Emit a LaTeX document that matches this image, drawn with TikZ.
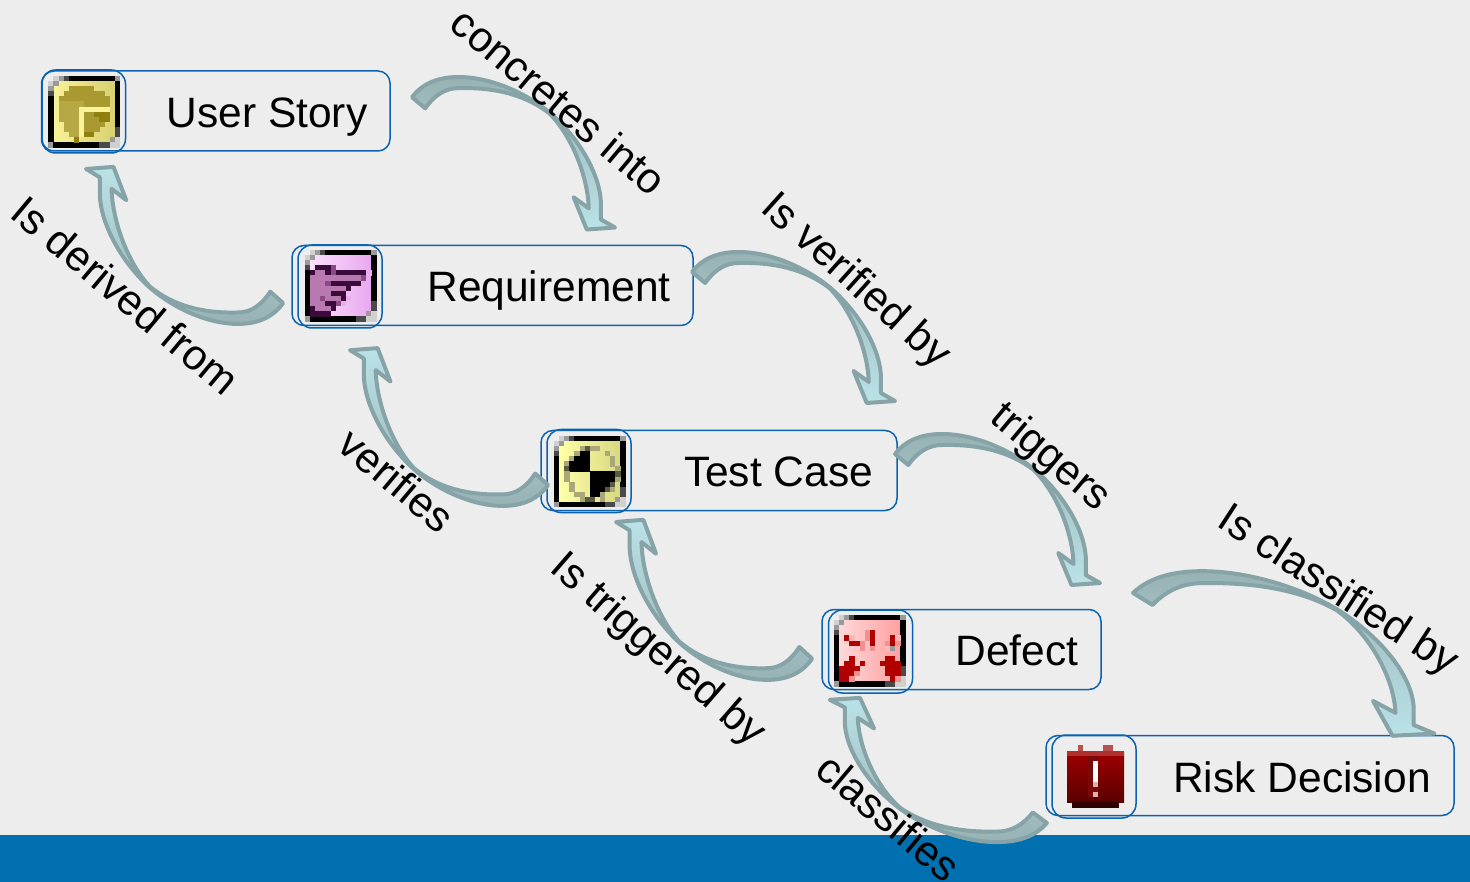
\documentclass[tikz,border=0pt]{standalone}
\usepackage{fontspec}
\setmainfont{Liberation Sans}
\definecolor{pageback}{HTML}{EDEDED}
\definecolor{barblue}{HTML}{0070B0}
\definecolor{boxblue}{HTML}{0A62B0}
\definecolor{arrowline}{HTML}{86A4A7}
\definecolor{arrowtail}{HTML}{98B2B4}
\definecolor{arrowhead}{HTML}{BAE2E7}
\definecolor{pxK}{HTML}{000000}
\definecolor{pxG}{HTML}{9A9A9A}
\definecolor{pxL}{HTML}{D0D0D0}
\definecolor{pxD}{HTML}{4A4A4A}
\definecolor{pxd}{HTML}{3A0A3A}
\definecolor{pxm}{HTML}{B878B0}
\definecolor{pxn}{HTML}{8A4A88}
\definecolor{pxp}{HTML}{E8B0E8}
\definecolor{pxO}{HTML}{A89A30}
\definecolor{pxo}{HTML}{B5A845}
\definecolor{pxh}{HTML}{8F8010}
\definecolor{pxy}{HTML}{F8F298}
\definecolor{pxg}{HTML}{A8A878}
\definecolor{pxe}{HTML}{5A5A40}
\definecolor{pxR}{HTML}{B00000}
\definecolor{pxr}{HTML}{F09090}
\definecolor{pxl}{HTML}{FFB8B8}
\definecolor{iconyb}{HTML}{D8D070}
\definecolor{iconpa}{HTML}{FCE0FC}
\definecolor{iconpb}{HTML}{E8A8F0}
\definecolor{iconca}{HTML}{FFFFA8}
\definecolor{iconcb}{HTML}{D8D880}
\definecolor{iconra}{HTML}{FFD8D8}
\definecolor{iconrb}{HTML}{FFA0A0}
\definecolor{risktab}{HTML}{B85050}
\definecolor{risktop}{HTML}{A00000}
\definecolor{risklow}{HTML}{5A0000}
\definecolor{riskband}{HTML}{B03030}
\definecolor{riskbase}{HTML}{300000}
\definecolor{riskmid}{HTML}{7A0A0A}
\definecolor{riskdot}{HTML}{E0B0B0}
\newcount\pxc
\newcount\pxr
\def\pxgo#1{\ifx#1\relax\else\ifx#1.\else\fill[fill=px#1] (\the\pxc,\the\pxr) rectangle ++(1.04,1.04);\fi\global\advance\pxc by 1 \expandafter\pxgo\fi}
\newcommand\pxrow[1]{\global\pxc=0 \pxgo#1\relax\global\advance\pxr by 1 }
\newcommand\iconback[2]{\shade[left color=#1,right color=#2] (1,1) rectangle (13,13);
  \global\pxr=0
  \pxrow{.LGDKKKKKKKKKG}
  \pxrow{LG...........K}
  \pxrow{G............K}
  \pxrow{D............K}
  \pxrow{K............K}
  \pxrow{K............K}
  \pxrow{K............K}
  \pxrow{K............K}
  \pxrow{K............K}
  \pxrow{K............K}
  \pxrow{K............D}
  \pxrow{K............D}
  \pxrow{K...........GL}
  \pxrow{GKKKKKKKKKDDLL}
  \global\pxr=0 }
\newcommand\blockarrow[5]{\begin{scope}[shift={(#1,#2)},xscale=#3,yscale=#4]
  \draw[#5] (2,22) .. controls (14,6) and (32,2) .. (48,2)
     .. controls (80,2) and (115,18) .. (138,37)
     .. controls (165,60) and (187,95) .. (189,125)
     -- (189,143) -- (203,151) -- (175,153) -- (162,121) -- (177,132)
     .. controls (176,100) and (160,60) .. (138,38)
     .. controls (115,20) and (85,12) .. (48,13)
     .. controls (35,13) and (24,20) .. (15,33) -- cycle;
\end{scope}}
\tikzset{
  arrowshape/.style={draw=arrowline,line width=4pt,line join=round},
  arrowfwd/.style={arrowshape,left color=arrowtail,middle color=arrowtail,right color=arrowhead,shading angle=0},
  arrowback/.style={arrowshape,left color=arrowhead,middle color=arrowtail,right color=arrowtail,shading angle=0},
  itembox/.style={draw=boxblue,line width=1.5pt,rounded corners=12pt,inner sep=0pt,minimum height=80pt},
  iconframe/.style={draw=boxblue,line width=1.5pt,rounded corners=14pt,inner sep=0pt,minimum width=84pt,minimum height=83pt},
  itemtext/.style={inner sep=0pt,anchor=base,font=\fontsize{42.5}{50}\selectfont},
  flowtext/.style={inner sep=0pt,font=\fontsize{42.5}{50}\selectfont,text=black},
  pixelgrid/.style={x=5.1pt,y=-5.1pt}
}
\begin{document}
\begin{tikzpicture}[x=1pt,y=-1pt]
\useasboundingbox (0,0) rectangle (1470,882);
\fill[pageback] (0,0) rectangle (1470,882);
\fill[barblue] (0,835) rectangle (1470,882);
% boxes
\node[itembox,minimum width=348pt] (story) at (216,111) {};
\node[itembox,minimum width=401pt] (req) at (492.5,285.5) {};
\node[itembox,minimum width=356pt] (test) at (719,470.5) {};
\node[itembox,minimum width=279pt] (defect) at (961.5,649.5) {};
\node[itembox,minimum width=408pt] (risk) at (1250,775.5) {};
\node[iconframe] (storyicon) at (83.5,111.5) {};
\node[iconframe] (reqicon) at (340,286.5) {};
\node[iconframe] (testicon) at (589,471) {};
\node[iconframe] (defecticon) at (870.5,651.5) {};
\node[iconframe] (riskicon) at (1094,776.5) {};
% icon 1
\begin{scope}[shift={(48.3,76)},pixelgrid]
\iconback{pxy}{iconyb}
\pxrow{.}\pxrow{.}
\pxrow{....OOOOO}
\pxrow{...OOOOOOOO}
\pxrow{..OOOOOOOOOO}
\pxrow{..oooooOOOOO}
\pxrow{..ooooyyyyyy}
\pxrow{..ooooyOOhhh}
\pxrow{..ooooyOOOhh}
\pxrow{...oooyOOOO}
\pxrow{...oooyOOO}
\pxrow{....ooyhh}
\pxrow{.....h}
\end{scope}
% icon 2
\begin{scope}[shift={(305,250)},pixelgrid]
\iconback{iconpa}{iconpb}
\pxrow{.}\pxrow{.}\pxrow{.}
\pxrow{..dddn}
\pxrow{.dmmdnddddddp}
\pxrow{.mmmmmmmmmmn}
\pxrow{.mmmnddddddp}
\pxrow{.mmmmmmmd}
\pxrow{.mmmmddd}
\pxrow{.mmnmmmdp}
\pxrow{.mmmddnp}
\pxrow{.dmmmd}
\pxrow{.dddd}
\end{scope}
% icon 3
\begin{scope}[shift={(554,435.7)},pixelgrid]
\iconback{iconca}{iconcb}
\pxrow{.}\pxrow{.}
\pxrow{.....gegg}
\pxrow{....gKK...g}
\pxrow{...gKKK....g}
\pxrow{..gKKKK....g}
\pxrow{..eKKKK.....g}
\pxrow{..g....KKKKKe}
\pxrow{..g....KKKKKg}
\pxrow{...g...KKKKe}
\pxrow{...g...KKKeg}
\pxrow{....gg.KKg}
\pxrow{.....gee.g}
\end{scope}
% icon 4
\begin{scope}[shift={(834,615)},pixelgrid]
\iconback{iconra}{iconrb}
\pxrow{.}\pxrow{.}\pxrow{.}
\pxrow{......rR}
\pxrow{..Rl..rR...Rl}
\pxrow{...RRr.R..rRr}
\pxrow{.....r.r..lG}
\pxrow{.}
\pxrow{...R......RR}
\pxrow{..RR.R...RRRR}
\pxrow{.RRRR.....RRR}
\pxrow{.RRRr.....RRR}
\pxrow{.RRr.......Rr}
\end{scope}
% risk icon
\fill[risktab] (1078,745) rectangle (1083,751);
\fill[risktab] (1103,745) rectangle (1113,751);
\shade[top color=risktop,bottom color=risklow] (1067,751) rectangle (1124,802);
\fill[riskband] (1067,751) rectangle (1124,756);
\fill[riskbase] (1072,802) rectangle (1119,808);
\fill[riskmid] (1088,756) rectangle (1098,797);
\fill[white] (1093,761) rectangle (1098,782);
\fill[riskdot] (1093,782) rectangle (1098,787);
\fill[riskdot] (1093,792) rectangle (1098,797);
% arrows
\blockarrow{410}{75}{1.01}{1.01}{arrowfwd}
\blockarrow{690}{250}{1.01}{1}{arrowfwd}
\blockarrow{893}{432}{1.02}{1}{arrowfwd}
\blockarrow{1130}{569}{1.5}{1.09}{arrowfwd}
\blockarrow{285}{326}{-0.98}{-1.04}{arrowback}
\blockarrow{550}{508}{-0.985}{-1.045}{arrowback}
\blockarrow{814}{682}{-0.975}{-1.06}{arrowback}
\blockarrow{1049}{844}{-1.08}{-0.955}{arrowback}
% item labels
\node[itemtext] (storylabel) at (267,127.5) {User Story};
\node[itemtext] (reqlabel) at (549,301.5) {Requirement};
\node[itemtext] (testlabel) at (778.5,486.5) {Test Case};
\node[itemtext] (defectlabel) at (1017,665.5) {Defect};
\node[itemtext] (risklabel) at (1302,792.5) {Risk Decision};
% flow labels
\node[flowtext,rotate=-40] (f1) at (559,101) {concretes into};
\node[flowtext,rotate=-40] (f2) at (126,295.5) {Is derived from};
\node[flowtext,rotate=-42] (f3) at (855,282) {Is verified by};
\node[flowtext,rotate=-40] (f4) at (397,480) {verifies};
\node[flowtext,rotate=-40] (f5) at (1050,458) {triggers};
\node[flowtext,rotate=-41] (f6) at (657,651) {Is triggered by};
\node[flowtext,rotate=-33] (f7) at (1337,592) {Is classified by};
\node[flowtext,rotate=-40] (f8) at (889,817) {classifies};
\end{tikzpicture}
\end{document}
